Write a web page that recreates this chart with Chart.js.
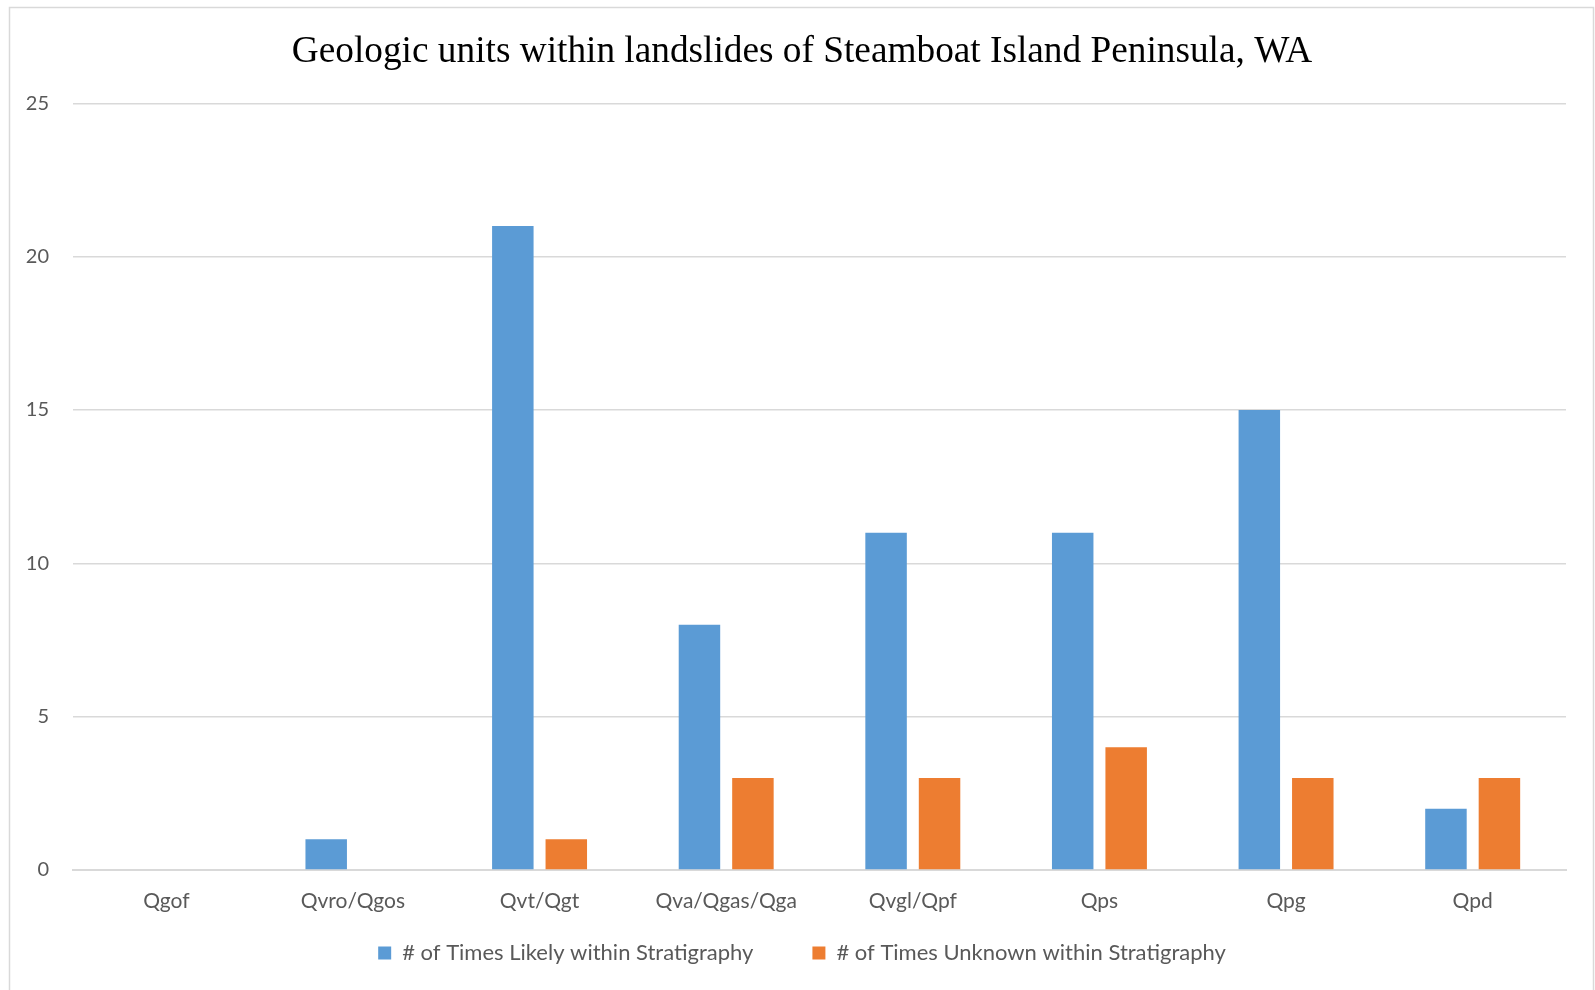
<!DOCTYPE html>
<html>
<head>
<meta charset="utf-8">
<title>Geologic units within landslides of Steamboat Island Peninsula, WA</title>
<script src="https://cdn.jsdelivr.net/npm/chart.js@4.4.1/dist/chart.umd.min.js"></script>
<style>
  html, body { margin: 0; padding: 0; background: #ffffff; overflow: hidden; }
  #wrap { position: absolute; left: 0; top: 0; width: 1595px; height: 990px; }
</style>
</head>
<body>
<div id="wrap"><canvas id="chart" width="1595" height="990"></canvas></div>
<script>
// Geologic unit categories along the x axis
const units = ["Qgof", "Qvro/Qgos", "Qvt/Qgt", "Qva/Qgas/Qga", "Qvgl/Qpf", "Qps", "Qpg", "Qpd"];

// Counts per unit
const likelyWithinStratigraphy = [0, 1, 21, 8, 11, 11, 15, 2];
const unknownWithinStratigraphy = [0, 0, 1, 3, 3, 4, 3, 3];

// Value axis ticks
const yTicks = [0, 5, 10, 15, 20, 25];

const seriesNames = ["# of Times Likely within Stratigraphy", "# of Times Unknown within Stratigraphy"];
const chartTitle = "Geologic units within landslides of Steamboat Island Peninsula, WA";

const BLUE = "#5B9BD5";
const ORANGE = "#ED7D31";
const GRID = "#d9d9d9";
const TEXT = "#595959";
const SANS = "Lato, 'Open Sans', sans-serif";

// Light frame around the whole chart area
const framePlugin = {
  id: "frame",
  beforeDraw(chart) {
    const ctx = chart.ctx;
    ctx.save();
    ctx.fillStyle = "#ffffff";
    ctx.fillRect(0, 0, chart.width, chart.height);
    ctx.strokeStyle = GRID;
    ctx.lineWidth = 1.5;
    ctx.beginPath();
    ctx.moveTo(9.5, chart.height + 5);
    ctx.lineTo(9.5, 7.5);
    ctx.lineTo(1593.5, 7.5);
    ctx.lineTo(1593.5, chart.height + 5);
    ctx.stroke();
    ctx.restore();
  }
};

// The category axis box is kept short so the legend sits close below it;
// let its labels extend past the box instead of being clipped.
const labelRoomPlugin = {
  id: "labelRoom",
  afterLayout(chart) {
    const x = chart.scales.x;
    if (x) x.bottom = x.top + 60;
  }
};

new Chart(document.getElementById("chart"), {
  type: "bar",
  data: {
    labels: units,
    datasets: [
      {
        label: seriesNames[0],
        data: likelyWithinStratigraphy,
        backgroundColor: BLUE,
        borderWidth: 0,
        categoryPercentage: 0.573,
        barPercentage: 0.776
      },
      {
        label: seriesNames[1],
        data: unknownWithinStratigraphy,
        backgroundColor: ORANGE,
        borderWidth: 0,
        categoryPercentage: 0.573,
        barPercentage: 0.776
      }
    ]
  },
  options: {
    responsive: false,
    animation: false,
    devicePixelRatio: 1,
    layout: { padding: { left: 9, right: 0, top: 0, bottom: 16 } },
    plugins: {
      title: {
        display: true,
        text: chartTitle,
        color: "#000000",
        font: { family: "'Liberation Serif', 'Times New Roman', serif", size: 37.3, weight: "normal" },
        padding: { top: 30, bottom: 28.5 }
      },
      legend: {
        position: "bottom",
        labels: {
          color: TEXT,
          font: { family: SANS, size: 22 },
          boxWidth: 13,
          boxHeight: 13,
          padding: 59
        }
      },
      tooltip: { enabled: false }
    },
    scales: {
      x: {
        grid: { display: false, drawTicks: false },
        border: { display: true, color: GRID, width: 2 },
        ticks: { color: TEXT, font: { family: SANS, size: 21 }, padding: 19, maxRotation: 0 },
        afterFit(scale) { scale.height = 13; }
      },
      y: {
        min: 0,
        max: 25,
        afterBuildTicks(scale) { scale.ticks = yTicks.map(v => ({ value: v })); },
        grid: { color: GRID, lineWidth: 1.4, drawTicks: false },
        border: { display: false },
        ticks: { color: TEXT, font: { family: SANS, size: 20 }, padding: 24 },
        afterFit(scale) { scale.width = 64; }
      },
      yRight: {
        position: "right",
        display: true,
        min: 0,
        max: 25,
        grid: { display: false, drawTicks: false },
        border: { display: false },
        ticks: { display: false },
        afterFit(scale) { scale.width = 29; }
      }
    }
  },
  plugins: [framePlugin, labelRoomPlugin]
});
</script>
</body>
</html>
